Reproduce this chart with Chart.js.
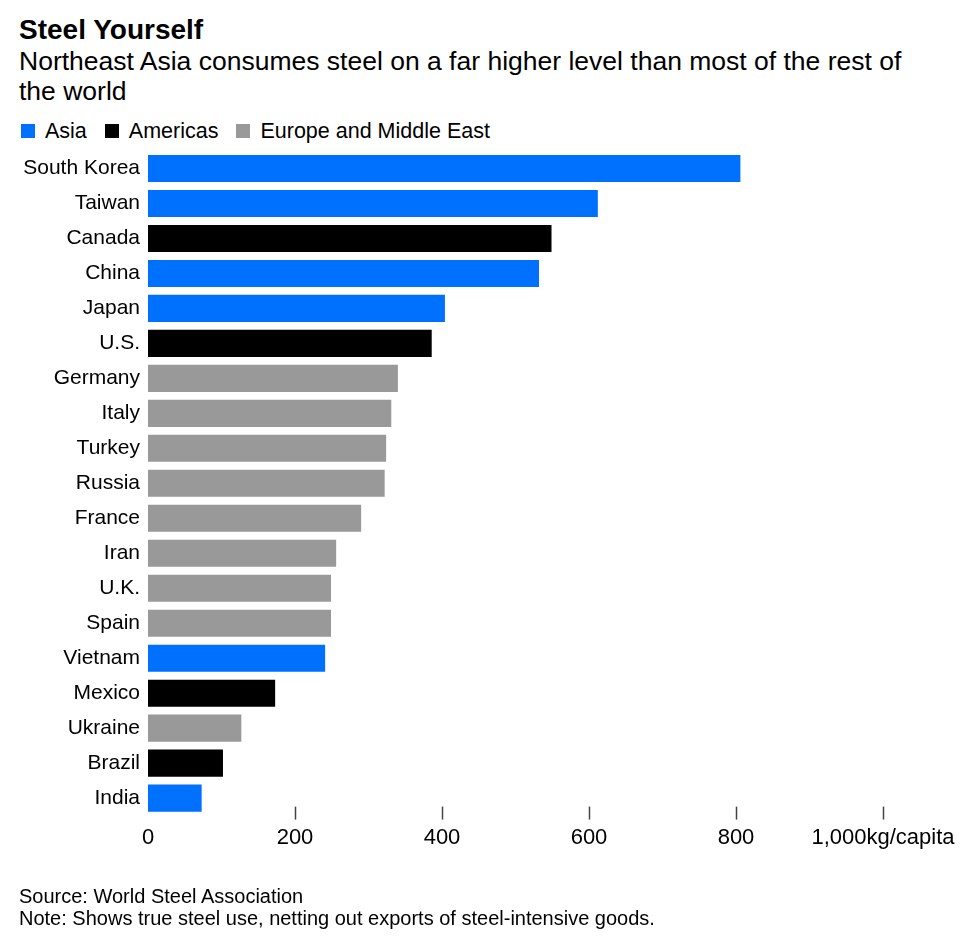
<!DOCTYPE html>
<html>
<head>
<meta charset="utf-8">
<script src="https://cdn.jsdelivr.net/npm/chart.js@4/dist/chart.umd.min.js"></script>
<style>
  html, body { margin: 0; padding: 0; background: #fff; }
  body { width: 961px; height: 939px; position: relative; overflow: hidden; font-family: "Liberation Sans", Arial, sans-serif; color: #000; }
  .title { position: absolute; left: 19px; top: 14px; font-size: 28px; line-height: 32px; font-weight: bold; }
  .subtitle { position: absolute; left: 19px; top: 46px; width: 940px; font-size: 26.5px; line-height: 30px; }
  .legend { position: absolute; left: 21px; top: 119px; display: flex; font-size: 21.5px; line-height: 24px; }
  .legend span { display: flex; align-items: center; margin-right: 18px; }
  .legend i { display: inline-block; width: 14px; height: 14px; margin-right: 10px; }
  .notes { position: absolute; left: 19px; top: 885px; font-size: 20px; line-height: 22px; }
  #wrap { position: absolute; left: 0; top: 0; width: 961px; height: 939px; }
</style>
</head>
<body>
<div class="title">Steel Yourself</div>
<div class="subtitle">Northeast Asia consumes steel on a far higher level than most of the rest of<br>the world</div>
<div class="legend">
  <span><i style="background:#0070ff"></i>Asia</span>
  <span><i style="background:#000"></i>Americas</span>
  <span><i style="background:#999"></i>Europe and Middle East</span>
</div>
<div id="wrap"><canvas id="chart"></canvas></div>
<div class="notes">Source: World Steel Association<br>Note: Shows true steel use, netting out exports of steel-intensive goods.</div>

<script>
const countries = ['South Korea', 'Taiwan', 'Canada', 'China', 'Japan', 'U.S.', 'Germany', 'Italy', 'Turkey', 'Russia',
  'France', 'Iran', 'U.K.', 'Spain', 'Vietnam', 'Mexico', 'Ukraine', 'Brazil', 'India'];
const regions = ['Asia', 'Asia', 'Americas', 'Asia', 'Asia', 'Americas', 'Europe', 'Europe', 'Europe', 'Europe',
  'Europe', 'Europe', 'Europe', 'Europe', 'Asia', 'Americas', 'Europe', 'Americas', 'Asia'];
const steelUse = [806, 612, 549, 532, 404, 386, 340, 331, 324, 322, 290, 256, 249, 249, 241, 173, 127, 102, 73];
const xTicks = [0, 200, 400, 600, 800, 1000];

const regionColors = { Asia: '#0070ff', Americas: '#000000', Europe: '#999999' };

// small tick marks under the bars, like the original
const tickMarks = {
  id: 'tickMarks',
  afterDraw(chart) {
    const { ctx, chartArea, scales } = chart;
    ctx.save();
    ctx.strokeStyle = '#444';
    ctx.lineWidth = 1.5;
    xTicks.forEach(v => {
      if (v === 0) return;
      const x = Math.round(scales.x.getPixelForValue(v)) + 0.5;
      ctx.beginPath();
      ctx.moveTo(x, chartArea.bottom - 9);
      ctx.lineTo(x, chartArea.bottom + 4);
      ctx.stroke();
    });
    ctx.restore();
  }
};

new Chart(document.getElementById('chart'), {
  type: 'bar',
  data: {
    labels: countries,
    datasets: [{
      data: steelUse,
      backgroundColor: regions.map(r => regionColors[r]),
      borderWidth: 0,
      barPercentage: 0.774,
      categoryPercentage: 1
    }]
  },
  options: {
    indexAxis: 'y',
    responsive: true,
    maintainAspectRatio: false,
    animation: false,
    layout: { padding: { top: 151, right: 78, bottom: 79, left: 0 } },
    plugins: { legend: { display: false }, tooltip: { enabled: false } },
    scales: {
      x: {
        min: 0,
        max: 1000,
        afterBuildTicks: s => { s.ticks = xTicks.map(v => ({ value: v })); },
        afterFit: s => { s.paddingRight = 0; s.paddingLeft = 0; },
        grid: { display: false, drawTicks: false },
        border: { display: false },
        ticks: {
          color: '#000',
          padding: 9,
          maxRotation: 0,
          font: { family: '"Liberation Sans", Arial, sans-serif', size: 22 },
          callback: v => v === 1000 ? '1,000kg/capita' : String(v)
        }
      },
      y: {
        afterFit: s => { s.width = 148; },
        grid: { display: false, drawTicks: false },
        border: { display: false },
        ticks: {
          color: '#000',
          padding: 8,
          autoSkip: false,
          font: { family: '"Liberation Sans", Arial, sans-serif', size: 21 }
        }
      }
    }
  },
  plugins: [tickMarks]
});
</script>
</body>
</html>
